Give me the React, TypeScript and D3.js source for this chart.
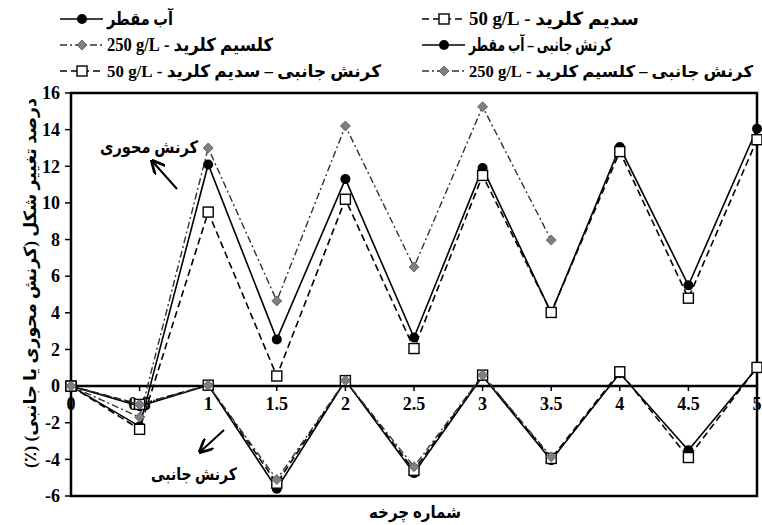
import React from "react";
import * as d3 from "d3";

const cycles = [0, 0.5, 1, 1.5, 2, 2.5, 3, 3.5, 4, 4.5, 5];
const xTicks = [0, 0.5, 1, 1.5, 2, 2.5, 3, 3.5, 4, 4.5, 5];
const yTicks = [-6, -4, -2, 0, 2, 4, 6, 8, 10, 12, 14, 16];

const waterAxial = [0, -2.2, 12.1, 2.55, 11.3, 2.65, 11.9, 4.0, 13.05, 5.5, 14.05];
const sodiumAxial = [0, -2.36, 9.5, 0.55, 10.2, 2.05, 11.5, 4.02, 12.8, 4.8, 13.45];
const calciumAxial = [0, -1.7, 13.0, 4.65, 14.2, 6.5, 15.25, 7.97];
const waterLateral = [0, -1.1, 0.05, -5.6, 0.3, -4.75, 0.55, -4.05, 0.7, -3.5, 1.0];
const sodiumLateral = [0, -1.0, 0.05, -5.3, 0.3, -4.6, 0.6, -3.95, 0.78, -3.9, 1.02];
const calciumLateral = [0, -1.0, 0.05, -5.1, 0.3, -4.4, 0.6, -3.86];

const LRI = "\u2066";
const PDI = "\u2069";
const legendLabels = [
  "آب مقطر",
  "سدیم کلرید - " + LRI + "50 g/L" + PDI,
  "کلسیم کلرید - " + LRI + "250 g/L" + PDI,
  "کرنش جانبی – آب مقطر",
  "کرنش جانبی – سدیم کلرید - " + LRI + "50 g/L" + PDI,
  "کرنش جانبی – کلسیم کلرید - " + LRI + "250 g/L" + PDI,
];
const legendWidths = [66, 170, 166, 143, 274, 284];
const legendSizes = [18, 18, 18, 18, 17, 16];

const yTitle = "درصد تغییر شکل (کرنش محوری یا جانبی) (٪)";
const xTitle = "شماره چرخه";
const axialNote = "کرنش محوری";
const lateralNote = "کرنش جانبی";

const FONT = "'Liberation Serif', 'Times New Roman', 'DejaVu Sans', serif";
const rtl = (s: string) => "\u202B" + s + "\u202C";

type Kind = "water" | "sodium" | "calcium";

const styles: Record<Kind, { dash?: string; stroke: string; width: number }> = {
  water: { stroke: "#000", width: 1.6 },
  sodium: { stroke: "#000", width: 1.6, dash: "7,4" },
  calcium: { stroke: "#333", width: 1.4, dash: "7,3,2,3" },
};

function Marker({ kind, x, y }: { kind: Kind; x: number; y: number }) {
  if (kind === "water") return <circle cx={x} cy={y} r={5} fill="#000" />;
  if (kind === "sodium")
    return <rect x={x - 5} y={y - 5} width={10} height={10} fill="#fff" stroke="#000" strokeWidth={1.4} />;
  return (
    <path
      d={`M${x},${y - 5}L${x + 5},${y}L${x},${y + 5}L${x - 5},${y}Z`}
      fill="#7f7f7f"
      stroke="#555"
      strokeWidth={0.8}
    />
  );
}

export default function App() {
  const W = 762;
  const H = 525;
  const x = d3.scaleLinear().domain([0, 5]).range([71, 757]);
  const y = d3.scaleLinear().domain([-6, 16]).range([496, 93]);
  const line = d3
    .line<number>()
    .x((_, i) => x(cycles[i]))
    .y((d) => y(d));

  const series: { kind: Kind; data: number[] }[] = [
    { kind: "water", data: waterAxial },
    { kind: "sodium", data: sodiumAxial },
    { kind: "calcium", data: calciumAxial },
    { kind: "water", data: waterLateral },
    { kind: "sodium", data: sodiumLateral },
    { kind: "calcium", data: calciumLateral },
  ];

  const legendItems: { kind: Kind; col: number; row: number }[] = [
    { kind: "water", col: 0, row: 0 },
    { kind: "sodium", col: 1, row: 0 },
    { kind: "calcium", col: 0, row: 1 },
    { kind: "water", col: 1, row: 1 },
    { kind: "sodium", col: 0, row: 2 },
    { kind: "calcium", col: 1, row: 2 },
  ];
  const colX = [60, 422];
  const rowY = [19, 45, 71];

  return (
    <svg
      width={W}
      height={H}
      style={{ position: "absolute", left: 0, top: 0, background: "#fff" }}
      fontFamily={FONT}
      fontWeight="bold"
    >
      <defs>
        <marker id="arrow" viewBox="0 0 10 10" refX="8" refY="5" markerWidth="7" markerHeight="7" orient="auto-start-reverse">
          <path d="M0,0L10,5L0,10" fill="none" stroke="#000" strokeWidth={2} />
        </marker>
      </defs>

      <rect x={x(0)} y={y(16)} width={x(5) - x(0)} height={y(-6) - y(16)} fill="none" stroke="#000" strokeWidth={2.5} />
      <line x1={x(0)} x2={x(5)} y1={y(0)} y2={y(0)} stroke="#000" strokeWidth={2.5} />

      {yTicks.map((t) => (
        <g key={"y" + t}>
          <line x1={x(0) - 6} x2={x(0)} y1={y(t)} y2={y(t)} stroke="#000" strokeWidth={1.5} />
          <text x={x(0) - 11} y={y(t)} dy="0.35em" textAnchor="end" fontSize={18}>
            {t}
          </text>
        </g>
      ))}

      {xTicks.map((t) => (
        <g key={"x" + t}>
          <line x1={x(t)} x2={x(t)} y1={y(0)} y2={y(0) + 5} stroke="#000" strokeWidth={1.5} />
          <text x={x(t)} y={y(0) + 24} textAnchor="middle" fontSize={18}>
            {t}
          </text>
        </g>
      ))}

      {series.map((s, i) => (
        <path
          key={"l" + i}
          d={line(s.data) || ""}
          fill="none"
          stroke={styles[s.kind].stroke}
          strokeWidth={styles[s.kind].width}
          strokeDasharray={styles[s.kind].dash}
        />
      ))}
      {series.map((s, i) => (
        <g key={"m" + i}>
          {s.data.map((v, j) => (
            <Marker key={j} kind={s.kind} x={x(cycles[j])} y={y(v)} />
          ))}
        </g>
      ))}

      <text x={100} y={147} dy="0.35em" textAnchor="start" fontSize={17} textLength={98} lengthAdjust="spacingAndGlyphs">
        {rtl(axialNote)}
      </text>
      <line x1={177} y1={189} x2={153} y2={162} stroke="#000" strokeWidth={2} markerEnd="url(#arrow)" />
      <text x={151} y={474} dy="0.35em" textAnchor="start" fontSize={17} textLength={86} lengthAdjust="spacingAndGlyphs">
        {rtl(lateralNote)}
      </text>
      <line x1={224} y1={430} x2={201} y2={451} stroke="#000" strokeWidth={2} markerEnd="url(#arrow)" />

      <text
        transform={`translate(30,${283 + 185}) rotate(-90)`}
        textAnchor="start"
        dy="0.35em"
        fontSize={17}
        textLength={370}
        lengthAdjust="spacingAndGlyphs"
      >
        {rtl(yTitle)}
      </text>
      <text x={369} y={512} textAnchor="start" dy="0.35em" fontSize={17} textLength={92} lengthAdjust="spacingAndGlyphs">
        {rtl(xTitle)}
      </text>

      {legendItems.map((it, i) => {
        const x0 = colX[it.col];
        const yy = rowY[it.row];
        const st = styles[it.kind];
        return (
          <g key={"lg" + i}>
            <line
              x1={x0}
              x2={x0 + 43}
              y1={yy}
              y2={yy}
              stroke={st.stroke}
              strokeWidth={st.width}
              strokeDasharray={st.dash}
            />
            <Marker kind={it.kind} x={x0 + 22} y={yy} />
            <text
              x={x0 + 47}
              y={yy}
              dy="0.35em"
              textAnchor="start"
              fontSize={legendSizes[i]}
              textLength={legendWidths[i]}
              lengthAdjust="spacingAndGlyphs"
            >
              {rtl(legendLabels[i])}
            </text>
          </g>
        );
      })}
    </svg>
  );
}
